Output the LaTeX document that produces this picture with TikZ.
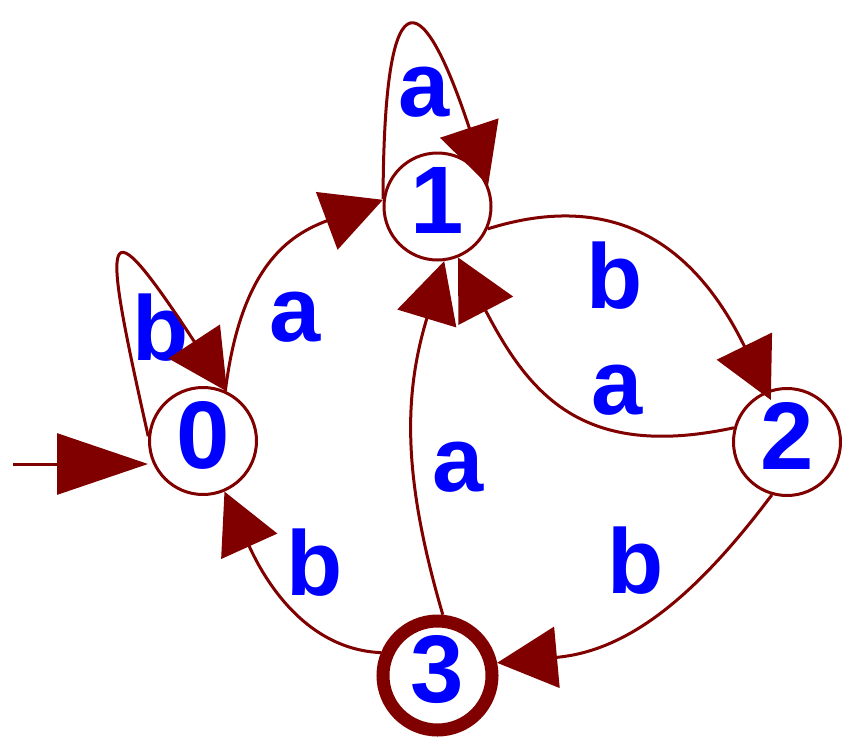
\documentclass[tikz,border=0pt]{standalone}
\usepackage{fontspec}
\setmainfont{Liberation Sans}
\usetikzlibrary{arrows.meta}
\definecolor{edgered}{RGB}{128,0,0}
\definecolor{textblue}{RGB}{0,0,255}

\begin{document}
\begin{tikzpicture}[x=1pt, y=-1pt,
    state/.style={draw=edgered, circle, line width=3pt, minimum size=107pt,
      inner sep=0pt, text height=70pt, text depth=15.2pt, text=textblue,
      font=\fontsize{96}{100}\selectfont\bfseries},
    accepting/.style={line width=13pt, minimum size=109pt},
    trans/.style={draw=edgered, line width=3pt, -{Triangle[length=60pt, width=61pt]}},
    initial/.style={draw=edgered, line width=3pt, -{Triangle[length=91pt, width=61pt]}},
    lbl/.style={anchor=base, inner sep=0pt, text=textblue,
      font=\fontsize{92}{100}\selectfont\bfseries}]
    \useasboundingbox (0,0) rectangle (857,750);

    \node[state] (0) at (203,441) {0};
    \node[state] (1) at (437.5,206.5) {1};
    \node[state] (2) at (787,442) {2};
    \node[state, accepting] (3) at (437.5,675.5) {3};
    \coordinate (start) at (13,464);

    % labels
    \node[lbl] (b00) at (161,360) {b};
    \node[lbl] (a01) at (295.5,341) {a};
    \node[lbl] (a11) at (424.5,116) {a};
    \node[lbl] (b12) at (615,308) {b};
    \node[lbl] (a21) at (617,414) {a};
    \node[lbl] (a31) at (458,491) {a};
    \node[lbl] (b23) at (635.5,593) {b};
    \node[lbl] (b30) at (315,595) {b};

    % transitions
    \draw[initial] (start) -- (start -| 0.west);
    \draw[trans] (0.175) .. controls (101,226) and (100,198) .. (0.64);
    \draw[trans] (0.66) .. controls (241,266) and (289,235) .. (1.173);
    \draw[trans] (1.172) .. controls (384,-21) and (419,-24) .. (1.23);
    \draw[trans, shorten >=-10pt] (1.-24) .. controls (634,183) and (706,268) .. (2.112);
    \draw[trans] (2.165) .. controls (584,460) and (530,396) .. (1.-68);
    \draw[trans] (3.85) .. controls (403,479) and (403,397) .. (1.-83);
    \draw[trans] (2.254) .. controls (693,600) and (626,651) .. (3.12);
    \draw[trans] (3.158) .. controls (300,649) and (260,570) .. (0.-67);
\end{tikzpicture}
\end{document}
